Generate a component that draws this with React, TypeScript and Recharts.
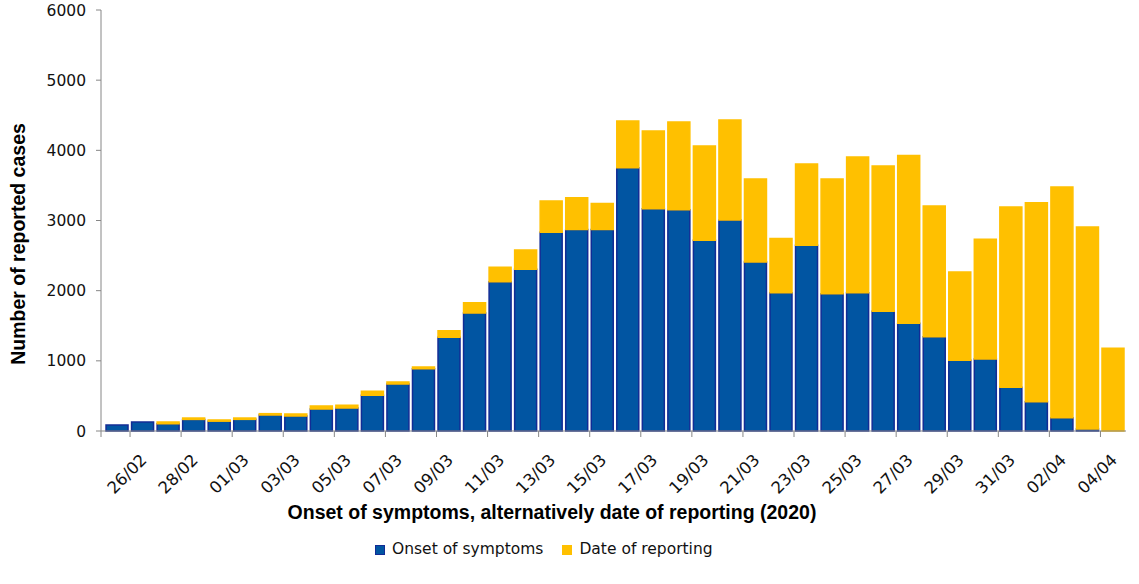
import React from 'react';
import { BarChart, Bar, XAxis, YAxis, Legend } from 'recharts';

const dates = [
  '25/02', '26/02', '27/02', '28/02', '29/02', '01/03', '02/03', '03/03', '04/03', '05/03',
  '06/03', '07/03', '08/03', '09/03', '10/03', '11/03', '12/03', '13/03', '14/03', '15/03',
  '16/03', '17/03', '18/03', '19/03', '20/03', '21/03', '22/03', '23/03', '24/03', '25/03',
  '26/03', '27/03', '28/03', '29/03', '30/03', '31/03', '01/04', '02/04', '03/04', '04/04',
];

const onsetOfSymptoms = [
  85, 128, 105, 165, 140, 166, 228, 214, 313, 328,
  508, 670, 888, 1335, 1681, 2128, 2304, 2831, 2873, 2873,
  3753, 3168, 3154, 2717, 3007, 2408, 1971, 2646, 1957, 1971,
  1705, 1534, 1344, 1007, 1026, 622, 418, 190, 28, 0,
];

const dateOfReporting = [
  0, 0, 23, 20, 17, 19, 19, 28, 43, 38,
  57, 28, 24, 95, 148, 205, 276, 447, 452, 371,
  665, 1107, 1250, 1344, 1425, 1183, 772, 1159, 1634, 1933,
  2071, 2394, 1862, 1259, 1705, 2570, 2835, 3287, 2879, 1178,
];

const yTicks = [0, 1000, 2000, 3000, 4000, 5000, 6000];

const seriesNames = { onset: 'Onset of symptoms', reporting: 'Date of reporting' };
const legendOrder = [seriesNames.onset, seriesNames.reporting];
const xTitle = 'Onset of symptoms, alternatively date of reporting (2020)';
const yTitle = 'Number of reported cases';

const data = dates.map((d, i) => ({
  date: d,
  onset: onsetOfSymptoms[i],
  reporting: dateOfReporting[i],
}));

const W = 1139;
const H = 584;
const MARGIN = { top: 10, right: 13, left: 0, bottom: 0 };
const Y_W = 101;
const PAD_L = 3.5;
const LEGEND_H = 44;
const X_H = H - 431 - LEGEND_H;
const BAND = (W - MARGIN.right - MARGIN.left - Y_W - PAD_L) / dates.length;

const BLUE = '#0155A2';
const BLUE_EDGE = '#122C95';
const YELLOW = '#FFC000';
const AXIS = '#868686';
const FONT = '"DejaVu Sans", sans-serif';
const TITLE_FONT = '"Liberation Sans", Arial, sans-serif';

function XTick(props: any) {
  const { x, y, payload } = props;
  let i = props.index;
  if (i === undefined || i === null) i = dates.indexOf(payload.value);
  if (i === 0) {
    return (
      <line x1={x - BAND / 2 - PAD_L} x2={x - BAND / 2 - PAD_L} y1={y} y2={y + 6} stroke={AXIS} strokeWidth={1} />
    );
  }
  if (i % 2 === 0) return null;
  const ax = x + 5;
  const ay = y + 30;
  return (
    <g>
      <line x1={x - BAND / 2} x2={x - BAND / 2} y1={y} y2={y + 6} stroke={AXIS} strokeWidth={1} />
      <text
        x={ax}
        y={ay}
        textAnchor="end"
        transform={`rotate(-45 ${ax} ${ay})`}
        fontFamily={FONT}
        fontSize={16.5}
        fill="#111"
      >
        {payload.value}
      </text>
    </g>
  );
}

function XTitle(props: any) {
  const vb = props.viewBox || { x: 101, y: 431, width: 1025, height: X_H };
  return (
    <text
      x={vb.x + vb.width / 2 - 61.5}
      y={vb.y + 88}
      textAnchor="middle"
      fontFamily={TITLE_FONT}
      fontWeight="bold"
      fontSize={19.5}
      fill="#000"
    >
      {xTitle}
    </text>
  );
}

function YTitle(props: any) {
  const vb = props.viewBox || { x: 0, y: 10, width: Y_W, height: 421 };
  const cx = 24.5;
  const cy = vb.y + vb.height / 2 + 23.5;
  return (
    <text
      x={cx}
      y={cy}
      textAnchor="middle"
      transform={`rotate(-90 ${cx} ${cy})`}
      fontFamily={TITLE_FONT}
      fontWeight="bold"
      fontSize={19.5}
      fill="#000"
    >
      {yTitle}
    </text>
  );
}

function LegendContent(props: any) {
  const payload = [...(props.payload || [])].sort(
    (a: any, b: any) => legendOrder.indexOf(a.value) - legendOrder.indexOf(b.value)
  );
  return (
    <div style={{ position: 'relative', width: W, height: LEGEND_H }}>
      <div
        style={{
          position: 'absolute',
          left: 375,
          top: 0,
          height: 18,
          display: 'flex',
          alignItems: 'center',
          fontFamily: FONT,
          fontSize: 15.5,
          color: '#111',
          whiteSpace: 'nowrap',
        }}
      >
        {payload.map((p: any, idx: number) => (
          <div key={idx} style={{ display: 'flex', alignItems: 'center', marginRight: 19 }}>
            <span
              style={{
                display: 'inline-block',
                width: 10,
                height: 10,
                background: p.color,
                boxSizing: 'border-box',
                border: `1px solid ${p.value === seriesNames.onset ? BLUE_EDGE : YELLOW}`,
                marginRight: 7,
                marginTop: 2,
              }}
            />
            <span style={{ lineHeight: '18px' }}>{p.value}</span>
          </div>
        ))}
      </div>
    </div>
  );
}

export default function App() {
  return (
    <div style={{ position: 'absolute', left: 0, top: 0, width: W, height: H, background: '#fff' }}>
      <BarChart width={W} height={H} data={data} margin={MARGIN} barCategoryGap="6%">
        <XAxis
          dataKey="date"
          type="category"
          interval={0}
          height={X_H}
          padding={{ left: PAD_L, right: 0 }}
          tickLine={false}
          tickSize={0}
          tickMargin={0}
          axisLine={{ stroke: AXIS, strokeWidth: 1 }}
          tick={<XTick />}
          label={<XTitle />}
        />
        <YAxis
          type="number"
          domain={[0, 6000]}
          ticks={yTicks}
          width={Y_W}
          tickSize={5}
          tickMargin={10}
          axisLine={{ stroke: AXIS, strokeWidth: 1 }}
          tickLine={{ stroke: AXIS, strokeWidth: 1 }}
          tick={{ fontFamily: FONT, fontSize: 15.5, fill: '#111' }}
          label={<YTitle />}
        />
        <Legend
          verticalAlign="bottom"
          align="left"
          content={<LegendContent />}
          wrapperStyle={{ left: 0, top: H - LEGEND_H, bottom: 'auto', width: W, height: LEGEND_H }}
        />
        <Bar
          dataKey="onset"
          name={seriesNames.onset}
          stackId="a"
          fill={BLUE}
          stroke={BLUE_EDGE}
          strokeWidth={1.5}
          isAnimationActive={false}
        />
        <Bar
          dataKey="reporting"
          name={seriesNames.reporting}
          stackId="a"
          fill={YELLOW}
          stroke={YELLOW}
          strokeWidth={1.5}
          isAnimationActive={false}
        />
      </BarChart>
    </div>
  );
}
